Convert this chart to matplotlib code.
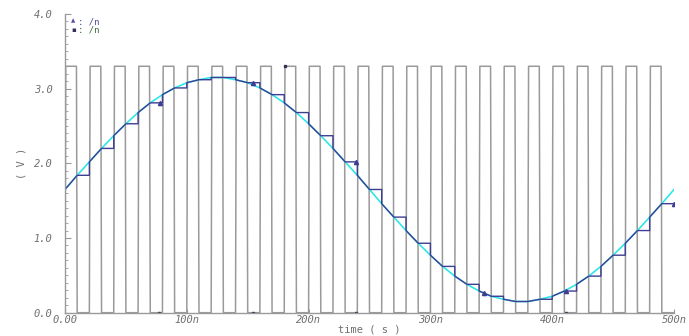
import numpy as np
import matplotlib
matplotlib.use("Agg")
import matplotlib.pyplot as plt

# sine input every 10 ns (V)
t_in = list(range(0, 501, 10))
v_in = [1.65, 1.84, 2.02, 2.20, 2.37, 2.53, 2.68, 2.81, 2.92, 3.01,
        3.08, 3.12, 3.15, 3.15, 3.12, 3.08, 3.01, 2.92, 2.81, 2.68,
        2.53, 2.37, 2.20, 2.02, 1.84, 1.65, 1.46, 1.28, 1.10, 0.93,
        0.77, 0.62, 0.49, 0.38, 0.29, 0.22, 0.18, 0.15, 0.15, 0.18,
        0.22, 0.29, 0.38, 0.49, 0.62, 0.77, 0.93, 1.10, 1.28, 1.46, 1.65]

# clock: rising edges (ns), pulse width, high level
clk_rise = [0, 20, 40, 60, 80, 100, 120, 140, 160, 180, 200, 220, 240,
            260, 280, 300, 320, 340, 360, 380, 400, 420, 440, 460, 480]
clk_width = 10
clk_high = 3.3

# marker positions (ns)
out_marks = [78, 154, 239, 344, 411, 500]
clk_marks_low = [77, 154, 239, 411]
clk_marks_high = [181]

GRAY = "#9a9a9a"; CYAN = "#2ee6e6"; BLUE = "#3d3d94"; TXT = "#707070"

# clock polyline (small edge time for the rounded look)
e = 0.6
ct, cv = [0.0], [0.0]
for r in clk_rise:
    ct += [r, r + e, r + clk_width - e, r + clk_width]
    cv += [0, clk_high, clk_high, 0]
ct.append(500); cv.append(0)

# track (clock high) / hold (clock low) output
ot, ov = [], []
for r in clk_rise:
    i0 = t_in.index(r); i1 = t_in.index(r + clk_width)
    ot += [r, r + clk_width, min(r + 2 * clk_width, 500)]
    ov += [v_in[i0], v_in[i1], v_in[i1]]

fig = plt.figure(figsize=(6.89, 3.36), dpi=100)
ax = fig.add_axes([65/689, 23.3/336, 609/689, 298.7/336])
ax.plot(ct, cv, color=GRAY, lw=1.1, solid_joinstyle="round")
ax.plot(t_in, v_in, color=CYAN, lw=1.2)
ax.plot(ot, ov, color=BLUE, lw=1.0)
ax.plot(out_marks, np.interp(out_marks, ot, ov), "^", color=BLUE, ms=3)
ax.plot(clk_marks_low, [0]*len(clk_marks_low), "s", color="#333355", ms=2)
ax.plot(clk_marks_high, [clk_high]*len(clk_marks_high), "s", color="#333355", ms=2)

ax.set_xlim(0, 500); ax.set_ylim(0, 4.0)
for s in ["top", "right"]:
    ax.spines[s].set_visible(False)
for s in ["left", "bottom"]:
    ax.spines[s].set_color(GRAY); ax.spines[s].set_linewidth(1.0)
ax.set_yticks([0, 1, 2, 3, 4]); ax.set_yticklabels(["0.0", "1.0", "2.0", "3.0", "4.0"])
ax.set_yticks(np.arange(0, 4.01, 0.1), minor=True)
ax.set_xticks([0, 100, 200, 300, 400, 500])
ax.set_xticklabels(["0.00", "100n", "200n", "300n", "400n", "500n"])
ax.tick_params(axis="y", which="major", direction="in", length=4, color=GRAY, pad=9,
               labelsize=7.5, labelcolor=TXT)
ax.tick_params(axis="y", which="minor", direction="in", length=2, color=GRAY)
ax.tick_params(axis="x", which="major", direction="in", length=3, color=GRAY, pad=2,
               labelsize=7.5, labelcolor=TXT)
for lb in ax.get_xticklabels() + ax.get_yticklabels():
    lb.set_fontstyle("italic"); lb.set_family("DejaVu Sans Mono")
ax.set_xlabel("time ( s )", fontsize=7.5, color=TXT, family="DejaVu Sans Mono")
ax.xaxis.set_label_coords(0.5, -0.041)
ax.set_ylabel("( V )", fontsize=7.5, color=TXT, family="DejaVu Sans Mono")
ax.yaxis.set_label_coords(-0.064, 0.5)

# legend-like labels
ax.text(0.010, 0.985, "\u25b2", transform=ax.transAxes, fontsize=4, color="#5a4aa8", va="top")
ax.text(0.022, 0.988, ": /n", transform=ax.transAxes, fontsize=6.5, color="#4a4aa0", va="top",
        family="DejaVu Sans Mono")
ax.text(0.010, 0.958, "\u25aa", transform=ax.transAxes, fontsize=5, color="#333355", va="top")
ax.text(0.022, 0.962, ": /n", transform=ax.transAxes, fontsize=6.5, color="#3f6a3a", va="top",
        family="DejaVu Sans Mono")

fig.savefig("out.png", dpi=100)
